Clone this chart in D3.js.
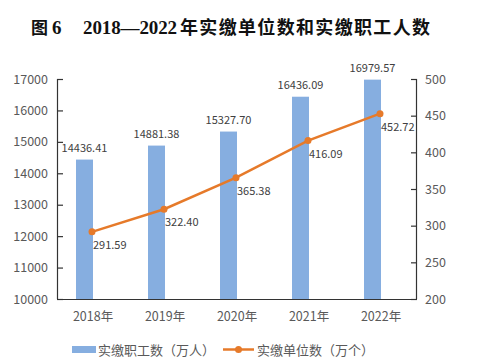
<!DOCTYPE html>
<html><head><meta charset="utf-8">
<script src="https://cdn.jsdelivr.net/npm/d3@7"></script>
<style>body{margin:0;background:#fff}svg{display:block}</style>
</head><body>
<svg id="c" width="485" height="360"></svg>
<script>
const categories = ["2018年","2019年","2020年","2021年","2022年"];
const workers = [14436.41, 14881.38, 15327.70, 16436.09, 16979.57];
const units = [291.59, 322.40, 365.38, 416.09, 452.72];
const leftTicks = [10000,11000,12000,13000,14000,15000,16000,17000];
const rightTicks = [200,250,300,350,400,450,500];
const seriesNames = ["实缴职工数（万人）","实缴单位数（万个）"];

const svg = d3.select("#c");
const font = "'Noto Sans CJK SC','Noto Sans',sans-serif";
const serif = "'Liberation Serif','DejaVu Serif',serif";
const L = 57, R = 417, T = 79, B = 299;
const x = d3.scaleBand().domain(categories).range([L, R]);
const yL = d3.scaleLinear().domain([10000,17000]).range([B, T]);
const yR = d3.scaleLinear().domain([200,500]).range([B, T]);
const barColor = "#86AEE0", lineColor = "#E67A2A", txt = "#595959", lbl = "#404040";

// Title
const tg = svg.append("g").attr("font-weight", "bold").attr("fill", "#111").attr("font-size", 18);
tg.append("text").attr("x", 31).attr("y", 34).attr("font-family", font).attr("font-size", 17).text("图");
tg.append("text").attr("x", 52).attr("y", 34).attr("font-family", serif).attr("font-size", 19).text("6");
tg.append("text").attr("x", 83).attr("y", 34).attr("font-family", serif).attr("font-size", 19)
  .attr("textLength", 94).text("2018—2022");
tg.append("text").attr("x", 180).attr("y", 34).attr("font-family", font).attr("textLength", 250).text("年实缴单位数和实缴职工人数");

// Bars
const cx = d => x(d) + x.bandwidth()/2;
svg.append("g").selectAll("rect").data(workers).join("rect")
  .attr("x", (d,i) => cx(categories[i]) - 17)
  .attr("width", 17)
  .attr("y", d => yL(d))
  .attr("height", d => B - yL(d))
  .attr("fill", barColor);

// Axes
const axL = svg.append("g").attr("transform", `translate(${L},0)`)
  .call(d3.axisRight(yL).tickValues(leftTicks).tickSize(6).tickFormat(""));
const axR = svg.append("g").attr("transform", `translate(${R},0)`)
  .call(d3.axisLeft(yR).tickValues(rightTicks).tickSize(6).tickFormat(""));
const axB = svg.append("g").attr("transform", `translate(0,${B})`)
  .call(d3.axisBottom(x).tickSize(0).tickPadding(13));
[axL, axR, axB].forEach(a => { a.selectAll("path,line").attr("stroke", "#333").attr("stroke-width", 1.2); });
axL.select("path").attr("d", `M0.5,${T}V${B}`);
axR.select("path").attr("d", `M-0.5,${T}V${B}`);
axB.select("path").attr("d", `M${L},0.5H${R}`);
axB.selectAll("text").attr("font-family", font).attr("font-size", 12.5).attr("fill", txt);

svg.append("g").selectAll("text").data(leftTicks).join("text")
  .attr("x", 48).attr("y", d => yL(d)).attr("dy", "0.36em").attr("text-anchor", "end")
  .attr("font-family", font).attr("font-size", 12.5).attr("fill", txt).text(d => d);
svg.append("g").selectAll("text").data(rightTicks).join("text")
  .attr("x", 425).attr("y", d => yR(d)).attr("dy", "0.36em")
  .attr("font-family", font).attr("font-size", 12.5).attr("fill", txt).text(d => d);

// Bar labels
svg.append("g").selectAll("text").data(workers).join("text")
  .attr("x", (d,i) => cx(categories[i]) - 8.5).attr("y", d => yL(d) - 8)
  .attr("text-anchor", "middle").attr("font-family", font).attr("font-size", 11).attr("fill", lbl)
  .text(d => d.toFixed(2));

// Line
const line = d3.line().x((d,i) => cx(categories[i]) - 1).y(d => yR(d));
svg.append("path").datum(units).attr("d", line).attr("fill", "none")
  .attr("stroke", lineColor).attr("stroke-width", 2.5);
svg.append("g").selectAll("circle").data(units).join("circle")
  .attr("cx", (d,i) => cx(categories[i]) - 1).attr("cy", d => yR(d)).attr("r", 3.5).attr("fill", lineColor);
svg.append("g").selectAll("text").data(units).join("text")
  .attr("x", (d,i) => cx(categories[i]) + 0).attr("y", d => yR(d) + 17)
  .attr("font-family", font).attr("font-size", 11).attr("fill", lbl)
  .text(d => d.toFixed(2));

// Legend
const lg = svg.append("g").attr("font-family", font).attr("font-size", 13).attr("fill", txt);
lg.append("rect").attr("x", 72).attr("y", 346).attr("width", 24).attr("height", 7).attr("fill", barColor);
lg.append("text").attr("x", 98).attr("y", 350).attr("dy", "0.36em").text(seriesNames[0]);
lg.append("line").attr("x1", 223).attr("x2", 254).attr("y1", 349.5).attr("y2", 349.5).attr("stroke", lineColor).attr("stroke-width", 2.5);
lg.append("circle").attr("cx", 238.5).attr("cy", 349.5).attr("r", 3.5).attr("fill", lineColor);
lg.append("text").attr("x", 257).attr("y", 350).attr("dy", "0.36em").text(seriesNames[1]);
</script>
</body></html>
